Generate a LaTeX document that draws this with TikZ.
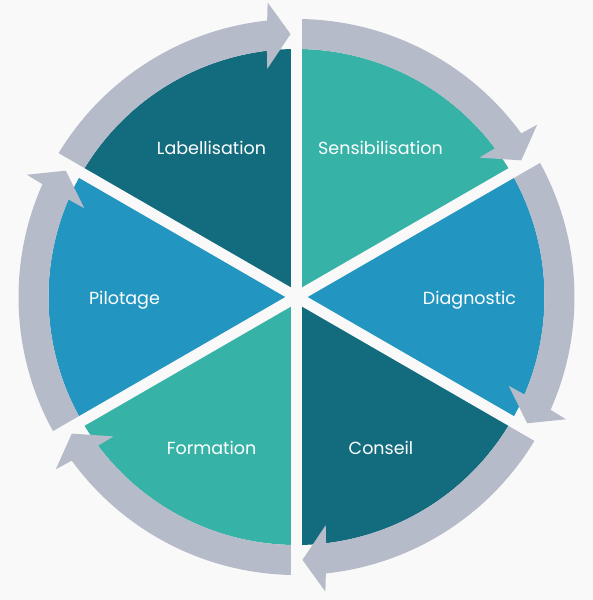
\documentclass[tikz,border=0pt]{standalone}
\usepackage{fontspec}
\setmainfont{Poppins}
\definecolor{bgc}{HTML}{F9F9F9}
\definecolor{darkc}{HTML}{136B7E}
\definecolor{tealc}{HTML}{36B3A6}
\definecolor{bluec}{HTML}{2295C1}
\definecolor{ringc}{HTML}{B6BBC9}
\tikzset{
  lbl/.style={text=white, font=\fontsize{17.5}{21}\selectfont, inner sep=0pt},
  gapline/.style={draw=bgc, line width=11pt},
  ringarrow/.style={fill=ringc},
}
\begin{document}
\begin{tikzpicture}[x=1pt,y=1pt]
\useasboundingbox (-296.5,-303) rectangle (296.5,297);
\fill[bgc] (-296.5,-303) rectangle (296.5,297);
% sectors
\fill[tealc] (0,0) -- (30:248pt) arc[start angle=30,end angle=90,radius=248pt] -- cycle;
\fill[darkc] (0,0) -- (90:248pt) arc[start angle=90,end angle=150,radius=248pt] -- cycle;
\fill[bluec] (0,0) -- (150:248pt) arc[start angle=150,end angle=210,radius=248pt] -- cycle;
\fill[tealc] (0,0) -- (210:248pt) arc[start angle=210,end angle=270,radius=248pt] -- cycle;
\fill[darkc] (0,0) -- (270:248pt) arc[start angle=270,end angle=330,radius=248pt] -- cycle;
\fill[bluec] (0,0) -- (330:248pt) arc[start angle=330,end angle=390,radius=248pt] -- cycle;
% arrows
\foreach \b in {30,-30,-90,-150,150,90}{
  \fill[ringarrow] ({\b+60}:278pt) arc[start angle=\b+60, end angle=\b+6.06, radius=278pt]
    -- ({\b+5.6}:296pt) -- ({\b+1.3}:263pt) -- ({\b+7.3}:230pt) -- ({\b+6.84}:248pt)
    arc[start angle=\b+6.84, end angle=\b+60, radius=248pt] -- cycle;
}
% gaps
\coordinate (c) at (0,0);
\foreach \a/\n in {30/g1,90/g2,150/g3,210/g4,270/g5,330/g6}{
  \coordinate (\n) at (\a:302pt);
  \draw[gapline] (c) -- (\n);
}
% labels
\node[lbl] (labellisation) at (-85,149) {Labellisation};
\node[lbl] (sensibilisation) at (84,149) {Sensibilisation};
\node[lbl] (diagnostic) at (173,-3) {Diagnostic};
\node[lbl] (pilotage) at (-172,-3) {Pilotage};
\node[lbl] (formation) at (-85,-151) {Formation};
\node[lbl] (conseil) at (84.5,-151) {Conseil};
\end{tikzpicture}
\end{document}
